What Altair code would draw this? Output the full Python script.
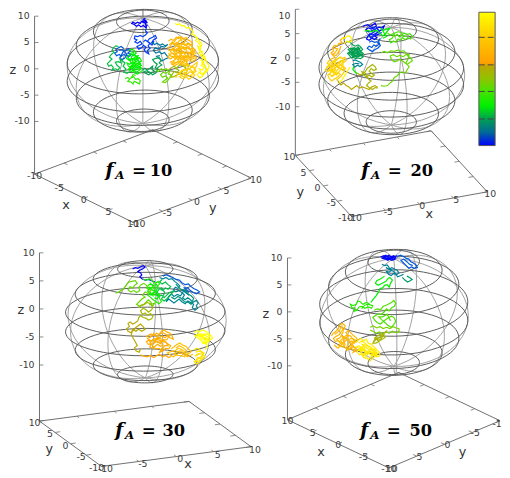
import math
import altair as alt
import pandas as pd

# ---- colour palette (chain position 0..1) ----
PAL_T = [0, .1, .2, .3, .42, .5, .59, .62, .8, 1]
PAL_C = ["#0000ff", "#006a98", "#00a050", "#00f000", "#50e000", "#90c400", "#b8a800", "#ffa000", "#ffc800", "#ffff00"]

# ---- view of each panel: origin and screen vectors of unit x, y, z ----
VIEWS = {
    "a": dict(o=(145, 68), ex=(5.0, 2.45), ey=(6.0, -2.25), ez=5.35),
    "b": dict(o=(397.5, 73.5), ex=(6.9, -1.25), ey=(-2.85, -3.1), ez=4.95),
    "c": dict(o=(147.5, 323), ex=(7.6, -1.0), ey=(-3.15, -2.3), ez=5.7),
    "d": dict(o=(400, 313.5), ex=(-5.15, -2.45), ey=(-5.65, 2.4), ez=5.48),
}
Z_CORNER = {"a": (-10, -10), "b": (-10, 10), "c": (-10, 10), "d": (10, 10)}
TICKS = [-10, -5, 0, 5, 10]
LATS = [-70, -50, -30, -10, 10, 30, 50, 70]
LONS = [-180, -140, -100, -60, -20, 20, 60, 100, 140]
FORMULA = {"a": ("10", 107, 175, 45), "b": ("20", 367, 175, 50), "c": ("30", 117, 439, 48), "d": ("50", 366, 439, 50)}
LABEL_OFF = {
    "a": {"x": (0, 2), "y": (5, 2)},
    "b": {"x": (3, 2), "y": (-6, 2)},
    "c": {"x": (4, 3), "y": (-5, 2)},
    "d": {"x": (0, 1.5), "y": (3, 1)},
}
TITLES = {
    "a": [("x", 67, 204), ("y", 216, 207), ("z", 13, 67)],
    "b": [("x", 436, 214), ("y", 305, 191), ("z", 278, 57)],
    "c": [("x", 191, 468), ("y", 50, 452), ("z", 21, 311)],
    "d": [("x", 326, 455), ("y", 470, 455), ("z", 270, 315)],
}

# ---- chain traces, as points of a 3x crop of each panel ----
CHAIN_A = [
    (0.0, [(128,14),(122,17),(128,20),(120,22),(124,27),(116,24),(112,30),(104,26),(98,30),(90,26),(86,30),(94,33),(100,38),(108,34),(114,40),(122,36),(128,42),(133,36),(127,31),(133,26),(126,20),(131,44)]),
    (0.02, [(131,44),(128,52),(134,58),(128,65),(120,70),(112,66),(104,70),(96,68),(94,76),(102,80),(96,86),(104,90),(112,84),(118,92),(110,96),(102,100),(108,108),(116,104),(122,96),(130,102),(124,110),(130,118),(138,122),(134,112),(142,106),(136,98),(142,90),(134,84),(140,76),(150,72),(158,66),(162,74),(152,80),(146,90),(154,84),(148,96),(138,88),(128,80),(122,86)]),
    (0.12, [(148,88),(156,94),(164,90),(172,96),(180,92),(188,98),(196,94),(186,102),(176,100),(168,108),(158,104),(152,112),(160,120),(170,116),(178,122),(186,118),(192,126),(198,134),(188,138),(178,144),(170,136),(162,130),(172,128)]),
    (0.05, [(62,106),(54,100),(46,104),(38,108),(42,116),(34,120),(40,128),(48,124),(54,130),(62,124),(70,128),(64,136),(56,140),(50,134),(60,116),(68,112),(76,106),(82,114),(74,120),(84,124),(76,132),(68,120),(58,110),(48,112)]),
    (0.24, [(46,100),(38,98),(30,104),(26,112),(32,118),(24,124),(18,132),(26,138),(18,146),(12,152),(16,160),(24,156),(30,164),(26,172),(36,168),(44,172),(50,164),(42,158),(36,148),(46,146),(54,150),(50,138),(58,144),(66,150),(60,160),(68,168),(62,178),(72,182),(80,176)]),
    (0.3, [(78,112),(86,108),(94,112),(100,120),(92,126),(84,122),(76,128),(70,136),(78,142),(86,136),(94,142),(102,136),(108,144),(112,152),(104,158),(96,152),(88,148),(80,154),(72,150),(76,160),(84,164),(92,158),(100,166),(108,160),(116,166),(108,174),(100,178),(92,172),(84,176),(76,170),(82,162),(90,154),(98,146),(90,138),(98,130),(106,128),(100,140),(110,134),(116,144),(106,150),(96,160),(88,168),(94,180),(104,184),(112,178),(120,172)]),
    (0.3, [(82,116),(92,118),(86,130),(96,126),(104,134),(94,136),(84,142),(76,136),(86,152),(96,148),(106,142),(114,156),(102,150),(92,164),(80,168),(86,158),(98,172),(108,168),(114,158),(104,164),(94,156),(84,130)]),
    (0.34, [(66,198),(74,194),(80,200),(74,206),(84,208),(90,214),(94,206),(102,210),(110,214),(112,204),(106,198),(98,200),(92,192),(84,196),(90,186),(98,188)]),
    (0.2, [(120,172),(126,166),(134,172),(142,166),(150,160),(148,170),(156,176),(146,180),(138,186),(130,182),(122,178),(130,174),(140,178),(150,186),(160,180),(166,170),(158,164),(164,154),(156,148),(150,140),(160,136),(170,134),(176,142),(170,150),(178,156),(168,162),(160,170)]),
    (0.44, [(160,172),(168,176),(176,168),(184,172),(192,168),(198,176),(190,182),(182,178),(174,186),(180,194),(188,190),(196,196),(188,202),(180,208),(188,210),(196,204),(202,196),(206,186),(198,184),(204,172)]),
    (0.53, [(200,170),(208,164),(216,160),(222,168),(230,172),(224,180),(216,176),(210,184),(206,194),(214,192),(222,188),(230,184),(238,180),(244,172),(252,166),(244,160),(236,154),(228,160),(220,170)]),
    (0.72, [(198,84),(206,78),(214,82),(222,72),(230,76),(238,70),(244,78),(252,72),(258,80),(266,84),(272,92),(264,96),(256,90),(248,96),(240,90),(232,94),(224,88),(216,94),(208,90),(204,100),(196,104),(200,112),(208,108),(216,114),(224,106),(232,112),(240,104),(248,110),(256,104),(264,110),(272,104),(280,110),(274,118),(266,122),(258,116),(250,122),(242,116),(234,122),(226,118),(218,124),(210,120),(202,126),(196,132),(204,138),(212,132),(220,138),(228,130),(236,136),(244,128),(252,134),(260,128),(268,134),(276,128),(284,134),(278,142),(270,146),(262,140),(254,146),(246,142),(238,148),(230,144),(222,150),(214,146),(208,154),(218,158),(228,152),(240,158),(250,152),(258,156),(246,134),(236,126),(226,112),(238,96),(250,84),(242,74),(230,84),(220,100),(212,112),(224,126),(236,142),(254,128),(268,116),(260,100),(246,104),(234,100),(228,118),(216,126)]),
    (0.74, [(200,96),(210,86),(220,96),(230,104),(222,116),(212,104),(204,116),(214,124),(226,132),(216,142),(204,148),(214,154),(226,146),(236,152),(246,148),(256,136),(246,122),(254,112),(244,100),(236,108),(244,118),(232,128),(242,138),(252,142),(262,132),(272,124),(282,122),(274,112),(264,118),(256,126),(266,140),(276,136),(270,100),(260,90),(252,98),(240,84),(230,70),(220,80),(212,92),(232,102),(226,90),(238,112),(228,142),(218,130),(206,130),(198,120)]),
    (0.82, [(240,150),(250,160),(260,156),(268,162),(278,154),(286,148),(284,160),(276,168),(282,176),(272,182),(264,176),(256,184),(248,178),(240,186),(232,192),(242,198),(252,192),(260,200),(270,194),(278,188),(268,172),(258,168),(246,170),(236,176),(226,184),(220,196)]),
    (0.84, [(250,150),(262,170),(270,160),(280,168),(270,186),(260,190),(248,188),(256,172),(240,172),(232,184),(250,196)]),
    (0.98, [(218,30),(226,34),(232,30),(238,38),(246,36),(252,44),(260,42),(268,48),(274,56),(268,62),(278,66),(286,74),(280,82),(290,88),(296,98),(288,104),(294,112),(302,116),(296,126),(304,134),(298,142),(306,150),(298,158),(308,162),(316,168),(308,178),(300,186),(292,178),(286,186),(294,196),(302,190),(310,180),(318,172),(322,158),(314,148),(308,130),(298,118),(286,96)]),
    (0.98, [(280,70),(290,80),(300,92),(292,120),(302,130),(310,140),(300,150),(310,158),(302,172),(292,168),(298,180)]),
]
CHAIN_B = [
    (0.0, [(130,24),(138,20),(146,18),(152,24),(160,20),(168,14),(172,22),(164,28),(156,32),(148,28),(140,34),(148,40),(156,38),(164,34),(172,30),(180,26),(188,28),(196,22),(192,32),(184,36),(176,42),(168,46),(160,50),(152,46),(146,54),(142,62),(150,66),(158,60),(166,64),(174,58),(166,52),(178,48),(188,42)]),
    (0.01, [(150,30),(160,26),(170,36),(160,44),(150,52),(156,60),(170,48),(180,36),(170,24),(176,34)]),
    (0.05, [(150,72),(158,68),(166,72),(174,70),(180,78),(172,84),(164,80),(158,88),(150,84),(144,90),(152,96),(160,100),(168,94),(176,90),(184,82),(178,68),(184,60)]),
    (0.3, [(136,38),(146,36),(156,40),(166,36),(176,38),(184,46),(192,52),(200,46),(206,38),(212,30),(202,32),(192,36),(186,28),(196,44),(204,54),(192,60)]),
    (0.4, [(206,44),(214,50),(222,46),(228,54),(236,48),(242,56),(250,48),(258,44),(266,48),(274,46),(282,54),(276,62),(268,58),(260,64),(252,58),(246,66),(238,62),(232,72),(224,68),(216,74),(212,64),(220,60),(228,44),(238,40),(248,42),(254,54),(264,54)]),
    (0.2, [(86,70),(94,74),(100,80),(108,84),(116,80),(124,86),(130,94),(124,100),(132,106),(126,114),(118,110),(112,118),(104,114),(96,120),(90,112),(84,106),(92,100),(86,94),(94,90),(102,96),(110,90),(118,94),(112,102),(120,106),(110,108),(102,104),(94,108),(100,116),(108,122),(116,120),(124,122),(132,116),(122,108),(114,98),(104,88),(96,98),(90,106),(98,112),(106,100),(116,86),(122,96),(128,104)]),
    (0.2, [(92,94),(100,90),(108,94),(116,102),(104,108),(96,104),(90,96),(102,112),(112,112),(120,100),(128,110),(118,116),(108,116),(98,102),(110,96),(122,90),(116,108),(104,96)]),
    (0.14, [(100,128),(108,126),(116,130),(124,134),(130,140),(122,146),(114,142),(106,148),(100,140),(110,136),(120,138)]),
    (0.3, [(104,146),(100,154),(106,162),(114,168)]),
    (0.55, [(114,166),(122,172),(130,168),(138,162),(144,152),(152,146),(160,140),(168,146),(172,154),(164,158),(156,152),(150,160),(158,168),(166,172),(158,178),(150,172),(142,178),(134,172),(128,162),(140,168),(148,184),(156,190),(148,196),(142,204),(150,210),(160,216),(168,210),(176,212)]),
    (0.44, [(186,104),(196,100),(206,104),(216,98),(226,100),(236,96),(246,100),(256,98),(262,106),(268,114),(276,120),(282,128),(274,134),(266,140),(258,134),(250,128),(242,124),(234,130),(226,132),(218,124),(214,114),(224,110),(234,116),(244,112),(254,116),(264,108),(272,110),(268,124),(262,136),(272,146),(266,156),(260,166),(250,162),(242,166),(236,174),(226,180),(222,190),(214,196),(206,204),(196,206),(186,204)]),
    (0.59, [(176,210),(168,204),(158,208),(150,216),(140,212),(130,208),(120,212),(112,204),(104,210),(96,216),(88,208),(80,204),(72,196),(64,202),(58,196),(54,188)]),
    (0.7, [(78,60),(70,58),(62,66),(68,74),(58,76),(52,84),(44,82),(38,90),(42,98),(34,104),(40,112),(46,118),(36,122),(28,128)]),
    (0.72, [(44,90),(54,92),(46,104),(38,110),(50,112),(58,100),(64,84),(56,108)]),
    (0.82, [(28,128),(22,136),(30,142),(22,148),(16,156),(24,162),(32,156),(40,162),(48,156),(44,146),(36,140),(44,132),(52,126),(60,118),(68,122),(76,118),(80,128),(72,134),(64,128),(56,136),(64,142),(72,146),(78,152),(70,158),(62,152),(54,148),(48,138),(38,150),(30,170),(38,176),(46,170),(54,164),(62,170),(54,178),(44,184),(36,190),(28,182),(24,172),(34,164),(46,150),(58,144),(68,136),(74,162),(64,176),(50,188)]),
    (0.86, [(20,150),(30,136),(40,128),(50,134),(42,142),(34,148),(26,156),(36,160),(44,168),(34,178),(42,172),(52,158),(60,148),(52,140),(62,134),(72,124),(70,140),(60,160),(50,172),(40,156),(30,146),(46,126),(56,120),(66,116)]),
    (0.97, [(66,62),(76,58),(86,52),(94,56),(98,66),(90,72),(82,68),(74,76)]),
    (0.97, [(92,148),(86,156),(80,166),(74,176),(68,186),(60,194)]),
]
CHAIN_C = [
    (0.0, [(68,28),(76,24),(84,26),(92,22),(100,18),(106,22),(98,28),(90,32),(84,36),(92,40),(96,46),(90,52),(96,58),(106,62),(116,60),(126,64),(136,68)]),
    (0.05, [(160,50),(170,46),(180,50),(190,54),(200,60),(210,62),(218,70),(228,76),(238,74),(246,82),(254,88),(264,92),(272,98),(262,104),(252,100),(244,94),(236,86),(226,86),(240,100)]),
    (0.14, [(150,54),(160,58),(170,54),(178,60),(188,58),(196,66),(204,72),(212,80),(206,88),(198,84),(192,92),(200,98),(208,94),(218,100),(226,108),(220,116),(228,122),(236,116),(244,122),(252,130),(262,124),(268,132),(262,140),(266,148),(258,154),(250,146),(254,136),(244,130),(236,126),(228,134),(218,128),(210,120),(202,126),(194,132),(186,126),(178,120),(170,128),(178,112),(186,104),(194,112),(204,106),(214,110),(224,94),(232,100),(240,108),(216,90)]),
    (0.17, [(200,74),(210,86),(218,92),(228,92),(236,104),(246,110),(254,118),(246,136),(238,130),(226,128),(214,116),(206,112),(196,120),(186,114)]),
    (0.24, [(158,60),(150,68),(158,74),(168,68),(176,76),(184,82),(176,90),(168,86),(160,94),(150,88),(144,96),(140,106),(148,112),(156,108),(164,116),(172,108),(180,100),(192,96),(184,108),(174,118),(164,126),(156,120),(166,100),(154,84)]),
    (0.32, [(100,60),(110,62),(120,58),(128,64),(136,72),(146,66),(150,74),(142,82),(134,88),(126,84),(118,92),(110,86),(118,76),(128,76),(136,96),(128,102),(136,108),(146,106),(150,118),(156,128),(148,134),(140,128),(130,122),(122,114),(114,108),(122,100),(132,112)]),
    (0.3, [(120,70),(130,80),(140,74),(146,84),(136,100),(124,108),(114,96),(120,84),(130,94),(142,98),(150,108),(142,120),(134,116)]),
    (0.44, [(16,102),(26,98),(36,92),(44,84),(50,76),(56,68),(66,66),(76,64),(82,72),(74,78),(68,86),(60,82),(54,92),(62,98),(72,94),(80,100),(90,94),(86,84),(94,76),(102,72),(110,78),(116,88),(124,94),(114,102),(106,98),(98,108),(106,114),(96,120),(88,128),(80,136),(90,142),(100,138),(108,130),(116,122),(124,130),(128,142),(136,132),(118,138)]),
    (0.54, [(86,146),(94,138),(104,136),(112,130),(122,134),(130,146),(124,154),(116,160),(108,152),(100,148),(92,156),(98,166),(106,162),(114,170),(122,164),(130,172),(126,180),(116,184),(108,178),(100,176),(92,170),(86,178),(84,186)]),
    (0.59, [(84,186),(76,192),(68,196),(60,190),(54,194),(58,204),(50,210),(54,218),(62,222),(70,216),(76,208),(84,202),(92,196),(100,204),(106,212),(96,218),(86,212),(78,218),(68,212),(64,228),(70,240),(76,250),(82,262),(74,268),(78,278),(88,282),(92,272)]),
    (0.66, [(92,290),(102,294),(112,296),(122,292),(132,298),(142,292),(150,288),(158,296),(168,292),(178,298),(186,294)]),
    (0.68, [(108,236),(116,230),(124,226),(132,232),(140,224),(148,228),(156,218),(164,214),(172,220),(182,224),(188,232),(192,242),(182,238),(174,232),(166,238),(158,232),(150,238),(142,244),(134,240),(126,248),(118,244),(110,250),(116,258),(124,256),(120,266),(128,270),(136,264),(144,258),(152,264),(160,262),(154,250),(146,252),(138,250),(130,258),(136,246),(144,236),(166,248),(174,256),(184,262),(178,272),(168,270),(160,278),(150,282),(158,268)]),
    (0.68, [(112,240),(122,236),(132,226),(142,234),(152,226),(160,222),(170,228),(180,232),(172,244),(160,244),(152,256),(142,248),(130,244),(122,252),(114,240),(128,262),(138,272),(148,270),(156,276),(166,262),(176,262),(170,252),(150,246),(140,238)]),
    (0.76, [(186,272),(196,264),(204,258),(212,254),(220,260),(230,264),(238,272),(246,280),(238,288),(228,292),(220,286),(210,284),(202,290),(192,296),(182,290),(174,284),(184,280),(196,278),(208,270),(218,274),(226,280),(234,296),(244,292),(252,288)]),
    (0.76, [(200,270),(210,262),(222,268),(232,278),(224,284),(214,278),(204,280),(194,286),(206,292),(216,292),(226,296),(238,282)]),
    (0.9, [(254,276),(262,270),(270,272),(278,280),(286,284),(280,294),(272,298),(264,306),(256,310),(262,318),(270,314),(278,304),(288,296),(282,288),(268,286),(258,294),(274,286)]),
    (0.9, [(260,282),(270,278),(282,284),(276,302),(266,298),(260,310),(272,308),(284,290)]),
    (1.0, [(256,222),(264,216),(272,220),(280,214),(290,218),(298,224),(306,230),(312,238),(304,244),(298,252),(290,256),(282,250),(274,244),(266,238),(258,232),(266,228),(276,232),(286,226),(294,234),(302,238),(292,244),(282,238),(274,228),(288,248),(296,262),(290,274)]),
    (1.0, [(262,226),(272,236),(284,232),(294,226),(302,232),(296,246),(286,242),(278,226),(270,230),(290,238),(300,246),(282,256),(268,222)]),
]
CHAIN_D = [
    (0.0, [(170,22),(178,18),(186,22),(194,16),(202,22),(210,18),(216,24),(208,30),(200,26),(192,32),(184,28),(176,26),(188,20),(198,18),(206,26),(196,24),(186,30),(220,18)]),
    (0.0, [(176,20),(186,16),(196,26),(206,20),(214,28),(204,32),(194,26),(182,24),(174,24),(200,30)]),
    (0.05, [(220,20),(230,16),(240,20),(248,26),(256,28),(262,36),(270,40),(278,46),(282,54),(272,56),(264,52),(256,56),(248,48),(240,40),(232,32),(240,28),(250,36),(258,44),(268,48)]),
    (0.13, [(174,44),(182,48),(190,46),(196,54),(204,62),(196,68),(188,66),(194,74),(202,78),(210,72),(218,76),(226,70),(220,62),(212,58),(204,54),(196,60),(186,54),(210,66),(222,82),(232,78),(240,74)]),
    (0.18, [(236,84),(244,92),(252,98),(260,94),(266,90),(258,84),(250,80)]),
    (0.3, [(182,80),(174,86),(166,90),(158,94),(154,102),(162,108),(170,104),(178,100),(186,96),(192,88),(198,84),(206,92),(200,102),(196,114),(190,106),(182,108),(176,116),(168,118),(164,128),(156,140),(148,150),(140,160)]),
    (0.33, [(136,164),(126,160),(116,166),(108,158),(100,156),(96,166),(86,170),(78,166),(82,176),(92,178),(88,188),(98,184),(104,174),(114,172),(122,178),(132,174),(142,178),(146,170),(134,166),(122,168),(112,180)]),
    (0.42, [(150,184),(160,180),(170,182),(178,172),(188,168),(196,164),(204,160),(210,154),(216,162),(212,172),(204,176),(196,186),(188,180),(180,190),(172,196),(162,196),(154,200),(146,206),(152,214),(160,222),(170,226),(178,218),(186,212),(194,206),(204,202),(212,208),(216,218),(210,228),(202,236),(192,230),(184,222),(172,212),(164,204),(176,204),(190,196),(200,216)]),
    (0.46, [(138,236),(148,232),(158,238),(168,234),(178,240),(188,236),(198,240),(208,234),(218,238),(226,240),(226,250),(216,252),(206,248),(196,254),(186,250),(176,256),(166,250),(156,254),(146,248),(138,244)]),
    (0.55, [(190,246),(182,252),(176,262),(168,266),(160,272),(152,276),(146,284),(156,284),(166,278),(176,272),(184,266),(172,256),(160,262),(150,270)]),
    (0.55, [(170,262),(180,258),(172,270),(162,276),(154,270),(148,280),(160,268),(176,266)]),
    (0.72, [(20,262),(26,254),(34,248),(42,238),(46,228),(54,224),(62,232),(58,242),(50,248),(44,258),(34,264),(26,270),(32,280),(40,276),(48,284),(42,292),(54,296),(62,288),(56,276),(64,268),(72,262),(64,252),(72,246),(80,254),(88,262),(96,268),(100,278),(90,284),(80,278),(72,284),(66,298),(76,304),(84,296),(94,298),(86,312),(98,306),(70,272),(52,262),(60,280),(40,300),(28,290),(36,296)]),
    (0.74, [(30,258),(40,250),(48,240),(52,232),(56,250),(46,268),(36,272),(44,280),(54,286),(64,276),(74,272),(84,270),(92,274),(86,286),(76,292),(68,306),(58,292),(48,276),(66,260),(78,262),(88,276),(78,300),(92,306)]),
    (0.92, [(92,282),(100,276),(110,270),(118,278),(126,272),(132,284),(142,288),(150,296),(158,304),(166,312),(168,322),(158,326),(148,320),(140,328),(132,334),(124,324),(116,316),(106,320),(98,312),(106,302),(114,308),(122,298),(114,288),(124,290),(134,298),(144,306),(152,314),(142,314),(132,308),(124,316),(114,300),(104,292),(96,296),(120,306),(130,320),(140,300),(152,304),(160,316),(148,330),(136,340)]),
    (0.93, [(104,284),(112,278),(122,284),(130,292),(140,296),(148,306),(158,314),(150,322),(138,318),(128,312),(118,322),(110,310),(102,304),(112,296),(122,304),(132,314),(142,322),(152,310),(160,322),(140,310),(128,300),(118,292),(108,306),(116,326),(126,332)]),
]
CHAINS = {"a": ((105, 10), CHAIN_A), "b": ((325, 15), CHAIN_B), "c": ((112, 260), CHAIN_C), "d": ((330, 250), CHAIN_D)}

# ---- colour bar ----
BAR_LEFT, BAR_RIGHT, BAR_TOP, BAR_BOTTOM = 486.5, 503, 8.5, 144
BAR_TICKS = [34, 62, 89, 117]


def proj(p, x, y, z):
    v = VIEWS[p]
    return (v["o"][0] + v["ex"][0] * x + v["ey"][0] * y,
            v["o"][1] + v["ex"][1] * x + v["ey"][1] * y - v["ez"] * z)


rings, meridians, box, ticks, labels, chains = [], [], [], [], [], []


def add(rows, gid, pts):
    for i, (a, b) in enumerate(pts):
        rows.append(dict(g=gid, i=i, px=a, py=b))


for p in VIEWS:
    for lat in LATS:
        r, z = 10 * math.cos(math.radians(lat)), 10 * math.sin(math.radians(lat))
        add(rings, f"{p}{lat}", [proj(p, r * math.cos(math.radians(a)), r * math.sin(math.radians(a)), z) for a in range(0, 361, 6)])
    for lon in LONS:
        add(meridians, f"{p}{lon}", [proj(p, 10 * math.cos(math.radians(a)) * math.cos(math.radians(lon)),
                                          10 * math.cos(math.radians(a)) * math.sin(math.radians(lon)),
                                          10 * math.sin(math.radians(a))) for a in range(-90, 91, 6)])
    add(box, p + "base", [proj(p, -10, -10, -20), proj(p, 10, -10, -20), proj(p, 10, 10, -20), proj(p, -10, 10, -20), proj(p, -10, -10, -20)])
    cx, cy = Z_CORNER[p]
    add(box, p + "z", [proj(p, cx, cy, -20), proj(p, cx, cy, 10)])
    tl = 0.7
    for t in TICKS:
        for s, yy in ((1, -10), (-1, 10)):
            add(ticks, f"{p}x{t}{yy}", [proj(p, t, yy, -20), proj(p, t, yy + s * tl, -20)])
        for s, xx in ((1, -10), (-1, 10)):
            add(ticks, f"{p}y{t}{xx}", [proj(p, xx, t, -20), proj(p, xx + s * tl, t, -20)])
        zx, zy = proj(p, cx, cy, t)
        add(ticks, f"{p}z{t}", [(zx, zy), (zx + 4, zy)])
        labels.append(dict(txt=str(t), px=zx - 5, py=max(zy, 12.5), al="right"))
    front_y = {"a": -10, "b": -10, "c": -10, "d": 10}[p]
    side_x = {"a": 10, "b": -10, "c": -10, "d": -10}[p]
    for t in TICKS:
        a, b = proj(p, t, front_y, -20)
        dx, dy = LABEL_OFF[p]["x"]
        labels.append(dict(txt=str(t), px=a + dx, py=b + dy, al="center"))
        a, b = proj(p, side_x, t, -20)
        dx, dy = LABEL_OFF[p]["y"]
        if p == "d" and t == -10:
            labels.append(dict(txt="-1", px=505, py=427, al="center"))
        else:
            labels.append(dict(txt=str(t), px=a + dx, py=b + dy, al="center"))
    (ox, oy), segs = CHAINS[p]
    for k, (t, pts) in enumerate(segs):
        for i, (u, v) in enumerate(pts):
            chains.append(dict(g=f"{p}{k:02d}", i=i, t=t, px=ox + u / 3, py=oy + v / 3))

X = alt.X("px:Q", scale=alt.Scale(domain=[8, 510], nice=False, zero=False), axis=None)
Y = alt.Y("py:Q", scale=alt.Scale(domain=[478, 8], nice=False, zero=False), axis=None)


def lines(rows, color, width, opacity=1.0):
    return alt.Chart(pd.DataFrame(rows)).mark_line(color=color, strokeWidth=width, opacity=opacity, clip=False).encode(
        x=X, y=Y, detail="g:N", order="i:Q")


layers = [
    lines(box, "#6e6e6e", 1.0),
    lines(ticks, "#6e6e6e", 0.8),
    lines(meridians, "#a0a0a0", 1.0),
    lines(rings, "#5c5c5c", 1.0),
]

layers.append(alt.Chart(pd.DataFrame(chains)).mark_line(strokeWidth=1.2, clip=False).encode(
    x=X, y=Y, detail="g:N", order="i:Q",
    color=alt.Color("t:Q", legend=None, scale=alt.Scale(domain=PAL_T, range=PAL_C))))

ldf = pd.DataFrame(labels)
for al in ("right", "center"):
    layers.append(alt.Chart(ldf[ldf.al == al]).mark_text(font="DejaVu Sans", fontSize=9.5, color="#3c3c3c", align=al, baseline="middle").encode(
        x=X, y=Y, text="txt:N"))

titles = [dict(txt=t, px=a, py=b) for p in TITLES for t, a, b in TITLES[p]]
layers.append(alt.Chart(pd.DataFrame(titles)).mark_text(font="DejaVu Sans", fontSize=13, color="#333333", baseline="middle").encode(
    x=X, y=Y, text="txt:N"))

fs, fa, fe, fn = [], [], [], []
for p, (num, fx, fy, dn) in FORMULA.items():
    fs.append(dict(txt="f", px=fx, py=fy))
    fa.append(dict(txt="A", px=fx + 10, py=fy + 3))
    fe.append(dict(txt="=", px=fx + 27, py=fy))
    fn.append(dict(txt=num, px=fx + dn, py=fy))
for rows, size, style in ((fs, 19, "italic"), (fa, 12, "italic"), (fe, 17, "normal"), (fn, 16.5, "normal")):
    layers.append(alt.Chart(pd.DataFrame(rows)).mark_text(font="DejaVu Serif", fontSize=size, fontWeight="bold", fontStyle=style, color="#000000", align="left", baseline="alphabetic").encode(
        x=X, y=Y, text="txt:N"))

grad = alt.Gradient(gradient="linear", x1=0, x2=0, y1=1, y2=0,
                    stops=[alt.GradientStop(offset=t, color=c) for t, c in zip(PAL_T, PAL_C)])
bar_df = pd.DataFrame([dict(px=BAR_LEFT, px2=BAR_RIGHT, py=BAR_TOP, py2=BAR_BOTTOM)])
layers.append(alt.Chart(bar_df).mark_rect(color=grad, stroke="#555555", strokeWidth=1).encode(x=X, x2="px2:Q", y=Y, y2="py2:Q"))
layers.append(alt.Chart(pd.DataFrame([dict(px=BAR_LEFT, px2=BAR_RIGHT, py=t) for t in BAR_TICKS])).mark_rule(
    color="#444444", strokeWidth=1, strokeDash=[6, 3]).encode(x=X, x2="px2:Q", y=Y))

chart = alt.layer(*layers).properties(width=502, height=470, padding=0, autosize=alt.AutoSizeParams(type="none")).configure_view(stroke=None)
chart.save("out.html", embed_options={"renderer": "svg", "actions": False})
